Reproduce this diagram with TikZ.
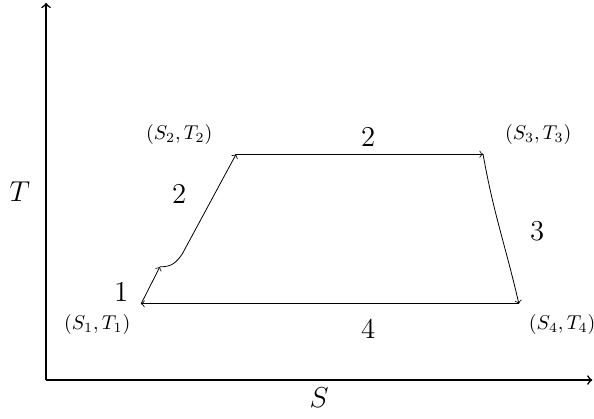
\documentclass[tikz,border=0pt]{standalone}
\usepackage{amsmath}
\usepackage{amssymb}
\usepackage{xcolor}
\usepackage{tikz}
\usetikzlibrary{arrows, positioning, calc}

\begin{document}
\begin{tikzpicture}[state/.style={font=\normalsize}, num/.style={font=\Large}]
\useasboundingbox (-0.81,-0.668) rectangle (9.63,6.68);
\draw[thick, ->] (0,0) -- (9.6,0) node[pos=0.5, below] (xlab) {\Large $S$};
\draw[thick, ->] (0,0) -- (0,6.63) node[pos=0.5, left=0.15] (ylab) {\Large $T$};

% states of the cycle
\coordinate (s1) at (1.67,1.34);
\coordinate (m) at (2.0,1.99);
\coordinate (s2) at (3.34,3.97);
\coordinate (s3) at (7.68,3.97);
\coordinate (s4) at (8.31,1.34);

\draw[->] (s1) -- (m);
\draw[->] (m) .. controls (2.21,1.99) and (2.28,2.06) .. (2.39,2.21) -- (s2);
\draw[->] (s2) -- (s3);
\draw[->] (s3) to[out=-80, in=103] (s4);
\draw[->] (s4) -- (s1);

\node[state] (l2) at (2.34,4.32) {$(S_2,T_2)$};
\node[state] (l3) at (8.65,4.32) {$(S_3,T_3)$};
\node[state] (l1) at (0.90,0.98) {$(S_1,T_1)$};
\node[state] (l4) at (9.07,0.98) {$(S_4,T_4)$};

\node[num] (n1) at (1.32,1.55) {1};
\node[num] (n2) at (2.34,3.27) {2};
\node[num] (n2b) at (5.66,4.27) {2};
\node[num] (n3) at (8.63,2.62) {3};
\node[num] (n4) at (5.66,0.90) {4};
\end{tikzpicture}
\end{document}
